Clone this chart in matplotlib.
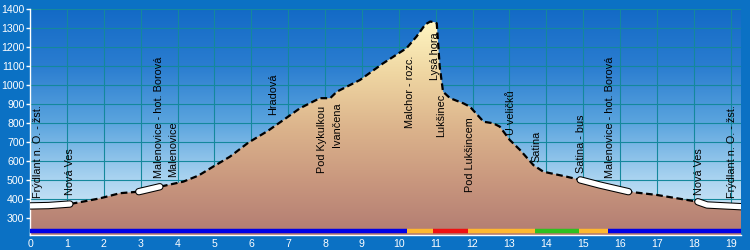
import numpy as np
import matplotlib
matplotlib.use("Agg")
import matplotlib.pyplot as plt
import matplotlib.patheffects as pe
from matplotlib.colors import LinearSegmentedColormap
from matplotlib.patches import Polygon

# elevation profile (km, m a.s.l.)
km = np.array([0.0, 0.5, 1.08, 1.5, 1.9, 2.44, 2.95, 3.52, 4.16, 4.57, 4.96,
               5.42, 5.92, 6.45, 6.87, 7.32, 7.86, 8.14, 8.32, 8.95, 9.58,
               10.21, 10.48, 10.72, 10.85, 10.97, 11.03, 11.11, 11.2, 11.39,
               11.75, 11.93, 12.3, 12.56, 12.74, 13.01, 13.29, 13.65, 13.92,
               14.55, 14.92, 15.45, 16.23, 16.99, 17.86, 18.11, 18.36, 19.28])
elev = np.array([365, 367, 375, 390, 405, 432, 440, 466, 493, 525, 571,
                 624, 698, 760, 817, 879, 932, 932, 966, 1028, 1116,
                 1195, 1256, 1320, 1335, 1332, 1326, 1098, 966, 932,
                 905, 887, 808, 800, 782, 712, 659, 580, 545,
                 519, 502, 475, 440, 423, 395, 387, 370, 361])

# paved sections drawn white
road_from = [0.0, 2.95, 14.92, 18.11]
road_to = [1.08, 3.52, 16.23, 19.28]

# trail marking colours along the route
mark_from = [0.0, 10.21, 10.93, 11.88, 13.69, 14.89, 15.68]
mark_to = [10.21, 10.93, 11.88, 13.69, 14.89, 15.68, 19.28]
mark_color = ["#0000e6", "#ffb830", "#f01010", "#ffb830", "#2fc01f", "#ffb830", "#0000e6"]

# waypoints: label, km (label centre), elevation of label foot
stop_name = ["Frýdlant n. O. - žst.", "Nová Ves", "Malenovice - hot. Borová", "Malenovice",
             "Hradová", "Pod Kykulkou", "Ivančena", "Malchor - rozc.", "Lysá hora",
             "Lukšinec", "Pod Lukšincem", "U veličků", "Satina", "Satina - bus",
             "Malenovice - hot. Borová", "Nová Ves", "Frýdlant n. O. - žst."]
stop_km = [0.23, 1.08, 3.51, 3.89, 6.6, 7.91, 8.32, 10.3, 10.98, 11.14, 11.93,
           13.04, 13.74, 14.94, 15.73, 18.15, 19.04]
stop_base = [406, 422, 511, 516, 844, 537, 677, 774, 1028, 729, 440,
             738, 598, 537, 511, 423, 405]

FRAME = "#0b71c4"
XMAX, YMIN, YMAX = 19.28, 212, 1400

sky = LinearSegmentedColormap.from_list(
    "sky", ["#e6f2fb", "#a9d3f0", "#5aa4de", "#2a7dd0", "#136ac6"])
earth = LinearSegmentedColormap.from_list(
    "earth", ["#b27c72", "#c9977e", "#dcb48c", "#efd6a2", "#fff6c2"])

fig = plt.figure(figsize=(7.5, 2.5), dpi=100, facecolor=FRAME)
ax = fig.add_axes([0.04, 0.06, 0.948, 0.903])

grad = np.linspace(0, 1, 256).reshape(-1, 1)
ax.imshow(grad, extent=[0, XMAX, YMIN, YMAX], origin="lower", aspect="auto",
          cmap=sky, zorder=0)

ax.set_xticks(range(20))
ax.set_yticks(range(300, 1500, 100))
ax.grid(True, color="#14889c", lw=0.8)

verts = np.column_stack([np.r_[km, km[-1], km[0]], np.r_[elev, YMIN, YMIN]])
poly = Polygon(verts, closed=True, facecolor="none", edgecolor="none")
ax.add_patch(poly)
im = ax.imshow(grad, extent=[0, XMAX, YMIN, 1340], origin="lower", aspect="auto",
               cmap=earth, zorder=2)
im.set_clip_path(poly)

ax.plot(km, elev, color="black", lw=1.6, ls=(0, (3, 1.6)), zorder=3)

for a, b in zip(road_from, road_to):
    m = (km >= a) & (km <= b)
    ax.plot(km[m], elev[m], color="white", lw=3.8, solid_capstyle="round",
            zorder=4, path_effects=[pe.Stroke(linewidth=5.3, foreground="black"), pe.Normal()])

ax.hlines([232] * len(mark_from), mark_from, mark_to, colors=mark_color, lw=3.2, zorder=4)

for name, x, y in zip(stop_name, stop_km, stop_base):
    ax.text(x, y, name, rotation=90, ha="center", va="bottom", fontsize=7.8,
            family="Liberation Sans", color="black", zorder=5)

ax.set_xlim(0, XMAX)
ax.set_ylim(YMIN, YMAX)
ax.tick_params(axis="y", colors="white", labelsize=7.6, length=3, width=1, pad=1)
ax.tick_params(axis="x", colors="white", labelsize=7.6, length=2, width=1,
               direction="in", pad=3)
for lab in ax.get_xticklabels() + ax.get_yticklabels():
    lab.set_family("Liberation Sans")
for side in ("top", "right"):
    ax.spines[side].set_visible(False)
for side in ("left", "bottom"):
    ax.spines[side].set_color("white")
    ax.spines[side].set_linewidth(1)

fig.savefig("out.png", dpi=100, facecolor=FRAME)
